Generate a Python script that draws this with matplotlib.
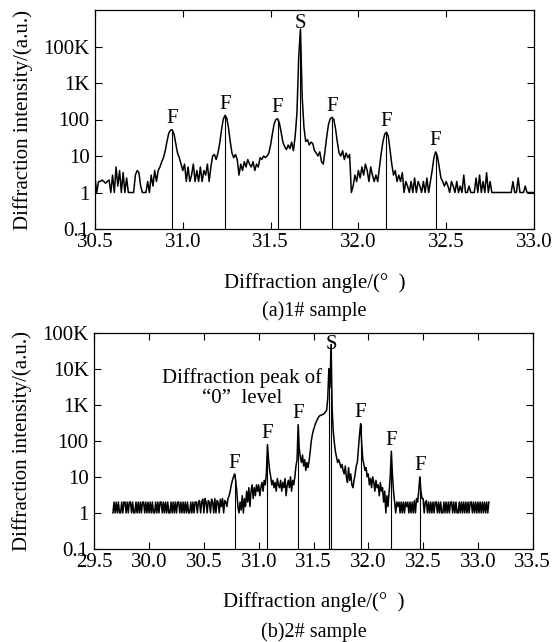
import numpy as np
import matplotlib.pyplot as plt
from matplotlib.ticker import FixedLocator, FixedFormatter, LogLocator, NullFormatter

plt.rcParams['font.family'] = ['Liberation Serif', 'DejaVu Serif']

# ---- sample 1: intensity every 0.01 deg from 30.50 to 33.00
start1 = 30.50
int1 = [
    2.5, 1, 2, 2, 2.2, 2, 1.8, 2, 2.2, 1,          # 30.5x
    3, 1, 5, 1.5, 4, 1, 3.5, 1, 2.5, 1,            # 30.6x
    1, 1, 1, 3, 4, 3.5, 1.5, 1, 1, 1,              # 30.7x
    2, 1, 3, 1.5, 4, 2, 4, 5, 7, 9,                # 30.8x
    14, 25, 42, 51, 52, 40, 22, 12, 9, 6,          # 30.9x
    4, 6, 2, 5, 2, 3, 6, 2, 4, 2,                  # 31.0x
    5, 2, 4, 3, 6, 2, 5, 10, 11, 8,                # 31.1x
    12, 22, 50, 100, 130, 110, 60, 25, 12, 9,      # 31.2x
    11, 8, 3, 6, 4, 7, 5, 8, 6, 5,                 # 31.3x
    7, 4, 6, 5, 9, 8, 10, 9, 10, 12,               # 31.4x
    20, 40, 75, 100, 105, 80, 45, 24, 18, 15,      # 31.5x
    20, 16, 24, 14, 35, 150, 5000, 30000, 400, 60, # 31.6x
    25, 28, 20, 24, 22, 14, 12, 10, 13, 7,         # 31.7x
    6, 14, 35, 75, 105, 115, 100, 55, 24, 12,      # 31.8x
    10, 14, 8, 12, 9, 11, 1, 1.5, 3, 2,            # 31.9x
    4, 2.5, 5, 3, 6, 4, 2, 5, 3, 2,                # 32.0x
    3, 2, 5, 12, 25, 40, 45, 35, 15, 6,            # 32.1x
    3, 4, 2, 3, 2, 3.5, 1, 2, 1.5, 1,              # 32.2x
    2, 1, 2.5, 1, 2, 1.5, 1, 2, 1, 2.5,            # 32.3x
    1, 2, 4, 9, 13, 10, 5, 2.5, 2, 1.5,            # 32.4x
    2, 1.5, 1, 2, 1.5, 1, 2, 1, 1.5, 1,            # 32.5x
    3, 1, 1, 1.5, 1, 1, 1, 2.5, 1, 3,              # 32.6x
    1, 2, 1, 3.5, 1, 2, 1, 1, 1, 1,                # 32.7x
    1, 1, 1, 1, 1, 1, 1, 1, 2, 1,                  # 32.8x
    1, 2.5, 1, 1, 1, 1.5, 1, 1, 1, 1,              # 32.9x
    1,                                             # 33.00
]
f_pos1 = [30.94, 31.24, 31.54, 31.85, 32.16, 32.44]
f_hgt1 = [52, 130, 105, 115, 45, 13]
s_pos1 = [31.67]
s_hgt1 = [30000]

# ---- sample 2: intensity every 0.01 deg from 29.67 to 33.10
start2 = 29.67
int2 = [
    1, 2, 1,                                       # 29.67-29.69
    2, 1, 2, 1, 1, 2, 1, 2, 2, 1,                  # 29.7x
    2, 1, 2, 2, 1, 2, 1, 1, 2, 1,                  # 29.8x
    2, 1, 2, 1, 2, 2, 1, 2, 1, 2,                  # 29.9x
    1, 2, 1, 2, 1, 1, 2, 1, 2, 1,                  # 30.0x
    2, 2, 1, 2, 1, 2, 1, 2, 1, 1,                  # 30.1x
    2, 1, 2, 1, 2, 1, 2, 2, 1, 2,                  # 30.2x
    1, 2, 1, 2, 1, 2, 1, 1, 2, 1,                  # 30.3x
    2, 1, 2, 2, 1, 2, 2.2, 1, 2, 2.4,              # 30.4x
    1, 2.5, 2, 1, 2.2, 2, 1, 2.4, 2, 1,            # 30.5x
    2.5, 1, 2.2, 2, 1, 2.4, 1.5, 2.5, 1, 2.2,      # 30.6x
    2, 1.5, 2.5, 3, 4, 6, 8, 10, 12, 8,            # 30.7x
    4, 1.5, 1, 2, 1.2, 3, 1, 2.5, 1.5, 4,          # 30.8x
    2, 5, 1.5, 4, 6, 2.5, 5, 3, 6, 4,              # 30.9x
    6, 3, 5, 7, 4, 8, 6, 12, 78, 30,               # 31.0x
    15, 10, 6, 8, 5, 7, 4, 9, 6, 5,                # 31.1x
    8, 4, 7, 5, 9, 3, 6, 8, 5, 10,                 # 31.2x
    4, 8, 6, 10, 20, 30, 280, 60, 35, 25,          # 31.3x
    40, 20, 30, 15, 25, 18, 28, 50, 100, 150,      # 31.4x
    200, 250, 310, 360, 420, 470, 500, 510, 530, 540,  # 31.5x
    580, 640, 700, 1500, 10000, 3000, 47000, 800, 190, 90,  # 31.6x
    50, 35, 25, 30, 24, 18, 22, 15, 12, 20,        # 31.7x
    10, 7, 18, 8, 12, 6, 5, 8, 12, 20,             # 31.8x
    25, 60, 150, 300, 80, 30, 22, 15, 18, 10,      # 31.9x
    12, 6, 9, 5, 10, 7, 4, 8, 5, 6,                # 32.0x
    3, 7, 4, 5, 2, 4, 1, 3, 1.5, 4,                # 32.1x
    10, 51, 12, 4, 2, 1, 2, 1.5, 2, 1,             # 32.2x
    2, 1, 2, 1, 2, 1.5, 2, 1, 2, 1,                # 32.3x
    2, 1, 2.2, 1, 2.5, 2, 4, 10, 4, 2.5,           # 32.4x
    2.5, 1, 2, 2.2, 1, 2, 1, 2, 1, 2,              # 32.5x
    1, 2, 2, 1, 2, 1, 2, 1, 1, 2,                  # 32.6x
    1, 2, 1, 2, 1, 2, 2, 1, 2, 1,                  # 32.7x
    2, 1, 1, 2, 1, 2, 1, 2, 1, 2,                  # 32.8x
    1, 2, 1, 2, 2, 1, 2, 1, 2, 1,                  # 32.9x
    2, 1, 2, 1, 2, 1, 2, 1, 2, 1,                  # 33.0x
    2,                                             # 33.10
]
f_pos2 = [30.78, 31.08, 31.36, 31.93, 32.21, 32.47]
f_hgt2 = [12, 78, 280, 300, 51, 10]
s_pos2 = [31.64, 31.66]
s_hgt2 = [10000, 47000]

yt1 = [0.1, 1, 10, 100, 1000, 10000]
yl1 = ['0.1', '1', '10', '100', '1K', '100K']
yt2 = [0.1, 1, 10, 100, 1000, 10000, 100000]
yl2 = ['0.1', '1', '10', '100', '1K', '10K', '100K']
xt1 = [30.5, 31.0, 31.5, 32.0, 32.5, 33.0]
xt2 = [29.5, 30.0, 30.5, 31.0, 31.5, 32.0, 32.5, 33.0, 33.5]

x1 = np.round(start1 + 0.01 * np.arange(len(int1)), 2)
x2 = np.round(start2 + 0.01 * np.arange(len(int2)), 2)

fig = plt.figure(figsize=(5.54, 6.42), dpi=100)
W, H = 554.0, 642.0
ax1 = fig.add_axes([95 / W, 1 - 229 / H, 439 / W, 219 / H])
ax2 = fig.add_axes([94.3 / W, 1 - 549 / H, 438.4 / W, 216.5 / H])

FS = 15

def style(ax, xt, yt, yl, xlim):
    ax.set_yscale('log')
    ax.set_ylim(0.1, 1e5)
    ax.set_xlim(*xlim)
    ax.yaxis.set_major_locator(FixedLocator(yt))
    ax.yaxis.set_major_formatter(FixedFormatter(yl))
    ax.yaxis.set_minor_locator(LogLocator(base=10, subs=np.arange(2, 10)))
    ax.yaxis.set_minor_formatter(NullFormatter())
    ax.set_xticks(xt)
    ax.set_xticklabels(['%.1f' % v for v in xt])
    ax.tick_params(which='both', direction='in', top=True, right=True,
                   labelsize=FS, width=0.8)
    ax.tick_params(which='major', length=5, pad=3)
    ax.tick_params(axis='y', which='major', pad=4)
    ax.tick_params(which='minor', length=2.5)
    for sp in ax.spines.values():
        sp.set_linewidth(0.9)
    ax.set_ylabel('Diffraction intensity/(a.u.)', fontsize=FS)
    ax.yaxis.set_label_coords(-0.142, 0.5)

style(ax1, xt1, yt1, yl1, (30.5, 33.0))
style(ax2, xt2, yt2, yl2, (29.5, 33.5))

for ax, x, y, fp, fh, sp, sh, s_off, s_va in [
        (ax1, x1, int1, f_pos1, f_hgt1, s_pos1, s_hgt1, -3, 'bottom'),
        (ax2, x2, int2, f_pos2, f_hgt2, s_pos2, s_hgt2, 0, 'center')]:
    ax.plot(x, y, color='black', lw=1.1)
    ax.vlines(fp, 0.1, fh, color='black', lw=0.8)
    ax.vlines(sp, 0.1, sh, color='black', lw=0.8)
    for p, h in zip(fp, fh):
        ax.annotate('F', (p, h), xytext=(0, 1), textcoords='offset points',
                    ha='center', va='bottom', fontsize=FS)
    ax.annotate('S', (max(sp), max(sh)), xytext=(0, s_off), textcoords='offset points',
                ha='center', va=s_va, fontsize=FS)

ax2.text(30.85, 2900, 'Diffraction peak of\n\u201c0\u201d  level', ha='center', va='center',
         fontsize=FS, linespacing=1.1)

fig.text(0.5 * (95 + 534) / W, 1 - 283 / H, 'Diffraction angle/(\u00b0  )',
         ha='center', va='center', fontsize=FS)
fig.text(0.5 * (95 + 534) / W, 1 - 311 / H, '(a)1# sample',
         ha='center', va='center', fontsize=14.5)
fig.text(0.5 * (94 + 533) / W, 1 - 602 / H, 'Diffraction angle/(\u00b0  )',
         ha='center', va='center', fontsize=FS)
fig.text(0.5 * (94 + 533) / W, 1 - 632 / H, '(b)2# sample',
         ha='center', va='center', fontsize=14.5)

fig.savefig('out.png', dpi=100)
